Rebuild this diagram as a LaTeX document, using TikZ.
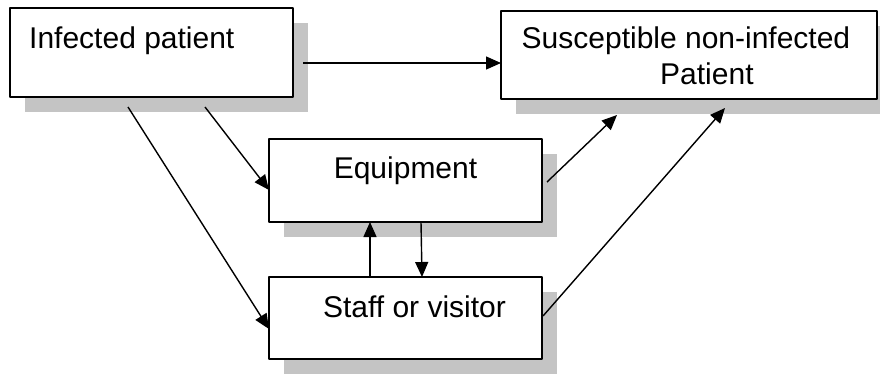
\documentclass[tikz,border=0pt]{standalone}
\usepackage{fontspec}
\setmainfont{Liberation Sans}
\usetikzlibrary{arrows.meta,shadows}
\begin{document}
\begin{tikzpicture}[x=1pt,y=-1pt, line join=round, >={Triangle[length=15pt,width=13pt]},
	box/.style={draw, line width=1.8pt, fill=white, anchor=north west, inner sep=0pt, outer sep=0pt,
		drop shadow={shadow xshift=15pt, shadow yshift=-15pt, fill=black!23, opacity=1}},
	txt/.style={anchor=base west, inner sep=0pt, font=\fontsize{30}{36}\selectfont},
	link/.style={->, line width=1.4pt}]
	\useasboundingbox (0,0) rectangle (880,373);
	\node[box, minimum width=283pt, minimum height=89pt] (inf) at (10,8) {};
	\node[box, minimum width=376pt, minimum height=88pt] (sus) at (501,11) {};
	\node[box, minimum width=273pt, minimum height=83pt] (equ) at (269,139) {};
	\node[box, minimum width=273pt, minimum height=82pt] (sta) at (269,277) {};
	\node[txt] (infT) at ([shift={(19,40)}]inf.north west) {Infected patient};
	\node[txt] (susT) at ([shift={(20.5,37)}]sus.north west) {Susceptible non-infected};
	\node[txt] (susP) at ([shift={(159,73)}]sus.north west) {Patient};
	\node[txt, anchor=base] (equT) at ([shift={(0,39)}]equ.north) {Equipment};
	\node[txt, anchor=base] (staT) at ([shift={(9,40)}]sta.north) {Staff or visitor};
	\draw[link] ([shift={(10,10.5)}]inf.east) -- ([shift={(0,8)}]sus.west);
	\draw[link] ([shift={(53.5,10)}]inf.south) -- ([shift={(0,9.5)}]equ.west);
	\draw[link] ([shift={(-23.5,10)}]inf.south) -- ([shift={(0,11)}]sta.west);
	\draw[link] ([shift={(5,1.5)}]equ.east) -- ([shift={(-72,16)}]sus.south);
	\draw[link] ([shift={(1,-2)}]sta.east) -- ([shift={(36,9)}]sus.south);
	\draw[link] ([xshift=-35.5pt]sta.north) -- ([xshift=-35.5pt]equ.south);
	\draw[link] ([xshift=15.5pt]equ.south) -- ([xshift=16.5pt]sta.north);
\end{tikzpicture}
\end{document}
